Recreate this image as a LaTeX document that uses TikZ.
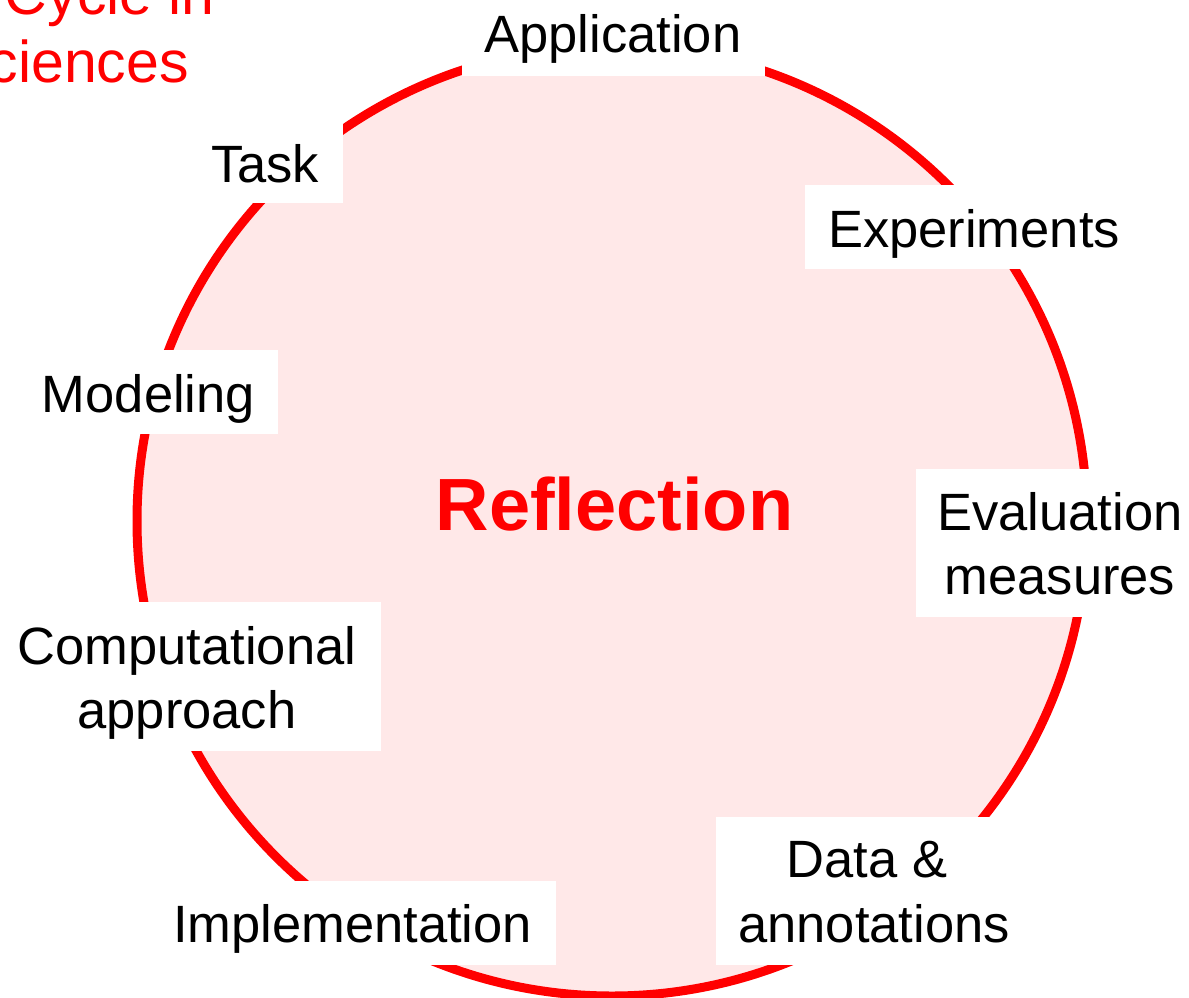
\documentclass[tikz,border=0pt]{standalone}
\usepackage{fontspec}
\setmainfont{Liberation Sans}
\definecolor{pinkfill}{RGB}{255,232,232}
\definecolor{cyclered}{RGB}{255,0,0}
\begin{document}
\begin{tikzpicture}[x=1pt,y=-1pt,
  box/.style={fill=white,draw=none,inner sep=0pt,rectangle},
  lbl/.style={font=\fontsize{52.5}{60}\selectfont,text=black,anchor=base,inner sep=0pt},
  ttl/.style={font=\fontsize{59}{64}\selectfont,text=cyclered,anchor=base east,inner sep=0pt}]
\useasboundingbox (0,0) rectangle (1189,998);
\clip (0,0) rectangle (1189,998);
% cycle
\node[circle, draw=cyclered, fill=pinkfill, line width=9pt, minimum size=950pt, inner sep=0pt] (cyc) at (612,521) {};
% title (cut off at the edge, as in the reference)
\node[ttl] (t1) at (215,15) {Cycle in};
\node[ttl] (t2) at (189,83) {Sciences};
% label boxes
\node[box, minimum width=303pt, minimum height=86pt] (appbox) at (613.5,33) {};
\node[box, minimum width=157pt, minimum height=85pt] (taskbox) at (264.5,160.5) {};
\node[box, minimum width=337pt, minimum height=84pt] (expbox) at (973.5,227) {};
\node[box, minimum width=259pt, minimum height=84pt] (modbox) at (148.5,392) {};
\node[box, minimum width=288pt, minimum height=148pt] (evalbox) at (1060,543) {};
\node[box, minimum width=388pt, minimum height=149pt] (compbox) at (187,676.5) {};
\node[box, minimum width=407pt, minimum height=84pt] (implbox) at (352.5,923) {};
\node[box, minimum width=316pt, minimum height=148pt] (databox) at (874,891) {};
% texts
\node[lbl] (app) at (613,53) {Application};
\node[lbl] (task) at (265,182) {Task};
\node[lbl] (exp) at (974,247) {Experiments};
\node[lbl] (mod) at (148.5,412) {Modeling};
\node[lbl] (eval1) at (1060,530) {Evaluation};
\node[lbl] (eval2) at (1060,594) {measures};
\node[lbl] (comp1) at (187,664) {Computational};
\node[lbl] (comp2) at (187,728) {approach};
\node[lbl] (impl) at (352.5,942) {Implementation};
\node[lbl] (data1) at (867,877) {Data \&};
\node[lbl] (data2) at (874,942) {annotations};
% centre
\node[font=\bfseries\fontsize{74}{80}\selectfont, text=cyclered, anchor=base, inner sep=0pt] (refl) at (614.5,530) {Reflection};
\end{tikzpicture}
\end{document}
